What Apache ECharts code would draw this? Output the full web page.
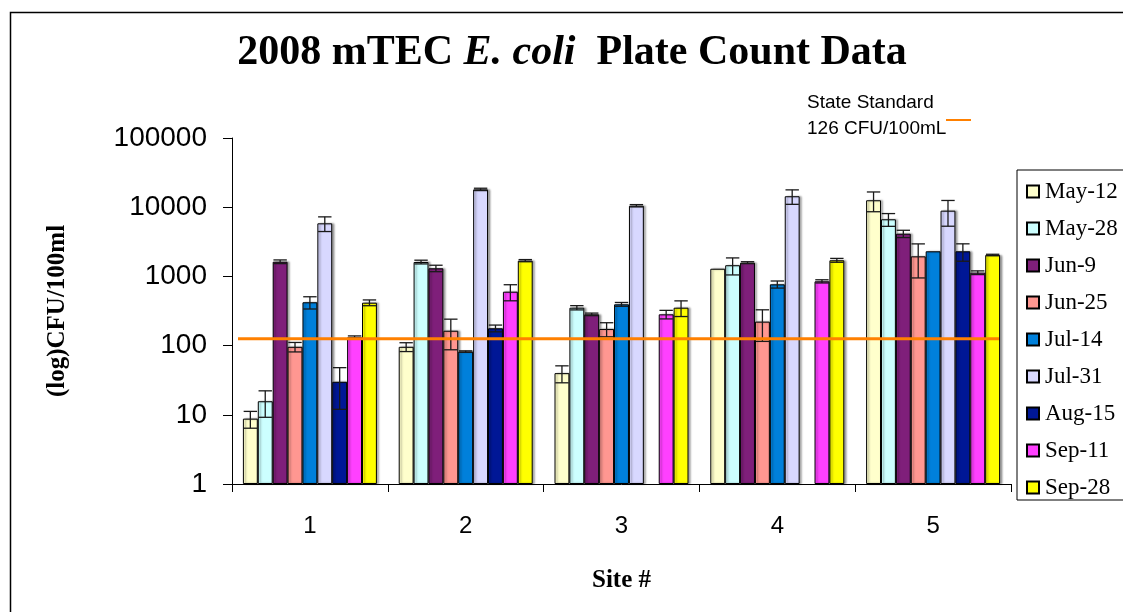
<!DOCTYPE html>
<html><head><meta charset="utf-8">
<script src="https://cdn.jsdelivr.net/npm/echarts@6.0.0/dist/echarts.min.js"></script>
<style>html,body{margin:0;padding:0;background:#fff}#c{width:1123px;height:612px}</style>
</head><body><div id="c"></div>
<script>
// ---- data ----
const sites = ['1', '2', '3', '4', '5'];
const dates = ['May-12', 'May-28', 'Jun-9', 'Jun-25', 'Jul-14', 'Jul-31', 'Aug-15', 'Sep-11', 'Sep-28'];
const colors = ['#FFFFCC', '#CCFFFF', '#7F1F7A', '#FF9791', '#0080DB', '#D8D8FF', '#001796', '#FF40FF', '#FFFF00'];
const stateStandard = 126;

const may12 = [8.8, 96, 40, 1290, 12600];
const may28 = [15.7, 1615, 353, 1450, 6690];
const jun9  = [1630, 1310, 283, 1580, 4140];
const jun25 = [96, 164, 174, 222, 1950];
const jul14 = [423, 82, 395, 768, 2306];
const jul31 = [5850, 18100, 10500, 14400, 8910];
const aug15 = [30, 178, null, null, 2306];
const sep11 = [132, 601, 283, 849, 1132];
const sep28 = [417, 1690, 353, 1710, 2038];

const may12Err = [2.4, 14, 11, 0, 4000];
const may28Err = [6.5, 100, 25, 400, 1400];
const jun9Err  = [100, 140, 12, 50, 500];
const jun25Err = [15, 77, 40, 107, 1000];
const jul14Err = [85, 2, 25, 90, 0];
const jul31Err = [1400, 700, 400, 3400, 3600];
const aug15Err = [18, 20, null, null, 650];
const sep11Err = [6, 157, 40, 45, 70];
const sep28Err = [40, 60, 90, 110, 50];

const values = [may12, may28, jun9, jun25, jul14, jul31, aug15, sep11, sep28];
const errors = [may12Err, may28Err, jun9Err, jun25Err, jul14Err, jul31Err, aug15Err, sep11Err, sep28Err];

// ---- chart ----
const GAP = 0.14; // barCategoryGap fraction
const chart = echarts.init(document.getElementById('c'));

function errRender(k) {
  return function (params, api) {
    const cat = api.value(0), v = api.value(1), e = api.value(2);
    if (!(e > 0)) return null;
    const band = api.size([1, 1], [cat, 10])[0];
    const inner = band * (1 - GAP);
    const bw = inner / 9;
    const c = api.coord([cat, v]);
    const x = c[0] - inner / 2 + (k + 0.5) * bw;
    const yHi = api.coord([cat, v + e])[1];
    const yLo = api.coord([cat, Math.max(v - e, 1)])[1];
    const hw = bw * 0.45;
    const st = { stroke: '#1a1a1a', lineWidth: 1.3 };
    return { type: 'group', children: [
      { type: 'line', shape: { x1: x, y1: yHi, x2: x, y2: yLo }, style: st },
      { type: 'line', shape: { x1: x - hw, y1: yHi, x2: x + hw, y2: yHi }, style: st },
      { type: 'line', shape: { x1: x - hw, y1: yLo, x2: x + hw, y2: yLo }, style: st }
    ]};
  };
}

const series = [];
dates.forEach((d, k) => {
  series.push({
    name: d, type: 'bar', data: values[k],
    barGap: '0%', barCategoryGap: (GAP * 100) + '%',
    itemStyle: { color: colors[k], borderColor: '#000', borderWidth: 1,
      shadowColor: 'rgba(0,0,0,0.35)', shadowOffsetX: 2, shadowOffsetY: 0, shadowBlur: 2 },
    z: 2
  });
});
dates.forEach((d, k) => {
  const data = [];
  values[k].forEach((v, i) => { if (v != null && errors[k][i] > 0) data.push([i, v, errors[k][i]]); });
  series.push({ name: 'err ' + d, type: 'custom', renderItem: errRender(k), data: data,
    encode: { x: 0, y: 1 }, z: 4, silent: true });
});
series.push({
  name: 'State Standard', type: 'custom', z: 5, silent: true,
  data: [[0, stateStandard]], encode: { x: 0, y: 1 },
  renderItem: function (params, api) {
    const band = api.size([1, 1], [0, 10])[0];
    const p0 = api.coord([0, api.value(1)]);
    const p1 = api.coord([sites.length - 1, api.value(1)]);
    return { type: 'line', shape: { x1: p0[0] - band / 2 + 6, y1: p0[1], x2: p1[0] + band / 2 - 12, y2: p1[1] },
      style: { stroke: '#FF8000', lineWidth: 3 } };
  }
});

chart.setOption({
  animation: false,
  backgroundColor: '#fff',
  grid: { left: 232, right: 112, top: 138, bottom: 128, containLabel: false, outerBoundsMode: 'none' },
  legend: {
    data: dates, orient: 'vertical', left: 1017, top: 170,
    itemWidth: 12, itemHeight: 12, itemGap: 14, icon: 'rect',
    padding: [10, 40, 1, 9],
    borderColor: '#000', borderWidth: 1, backgroundColor: '#fff',
    textStyle: { fontFamily: 'Liberation Serif', fontSize: 23, color: '#000', lineHeight: 23, padding: [0, 0, 0, 1] },
    selectedMode: false
  },
  xAxis: {
    type: 'category', data: sites,
    axisLine: { lineStyle: { color: '#000', width: 1 } },
    axisTick: { show: true, length: 8, inside: false, alignWithLabel: false, lineStyle: { color: '#000' } },
    axisLabel: { fontFamily: 'Liberation Sans', fontSize: 24, color: '#000', margin: 30 },
    name: 'Site #', nameLocation: 'middle', nameGap: 84,
    nameTextStyle: { fontFamily: 'Liberation Serif', fontWeight: 'bold', fontSize: 25, color: '#000' },
    splitLine: { show: false }
  },
  yAxis: {
    type: 'log', logBase: 10, min: 1, max: 100000,
    axisLine: { show: true, lineStyle: { color: '#000', width: 1 } },
    axisTick: { show: true, length: 9, inside: false, lineStyle: { color: '#000' } },
    minorTick: { show: false },
    axisLabel: { fontFamily: 'Liberation Sans', fontSize: 28, color: '#000', margin: 25,
      formatter: function (v) { return String(Math.round(v)); } },
    splitLine: { show: false },
    name: '(log)CFU/100ml', nameLocation: 'middle', nameRotate: 90, nameGap: 162,
    nameTextStyle: { fontFamily: 'Liberation Serif', fontWeight: 'bold', fontSize: 25, color: '#000' }
  },
  graphic: [
    { type: 'rect', left: 8, top: 10, silent: true, shape: { x: 0, y: 0, width: 1300, height: 800 },
      style: { fill: 'none', stroke: '#000', lineWidth: 1.5 } },
    { type: 'text', x: 572, y: 53, silent: true,
      style: { text: '{a|2008 mTEC }{b|E. coli}{a|  Plate Count Data}', align: 'center', verticalAlign: 'middle',
        rich: {
          a: { fontFamily: 'Liberation Serif', fontWeight: 'bold', fontSize: 42, fill: '#000' },
          b: { fontFamily: 'Liberation Serif', fontWeight: 'bold', fontStyle: 'italic', fontSize: 42, fill: '#000' }
        } } },
    { type: 'text', x: 807, y: 103, silent: true,
      style: { text: 'State Standard', font: '19px "Liberation Sans"', fill: '#000', verticalAlign: 'middle' } },
    { type: 'text', x: 807, y: 129, silent: true,
      style: { text: '126 CFU/100mL', font: '19px "Liberation Sans"', fill: '#000', verticalAlign: 'middle' } },
    { type: 'line', silent: true, shape: { x1: 946, y1: 120, x2: 971, y2: 120 },
      style: { stroke: '#FF8000', lineWidth: 2 } }
  ],
  series: series
});
</script>
</body></html>
